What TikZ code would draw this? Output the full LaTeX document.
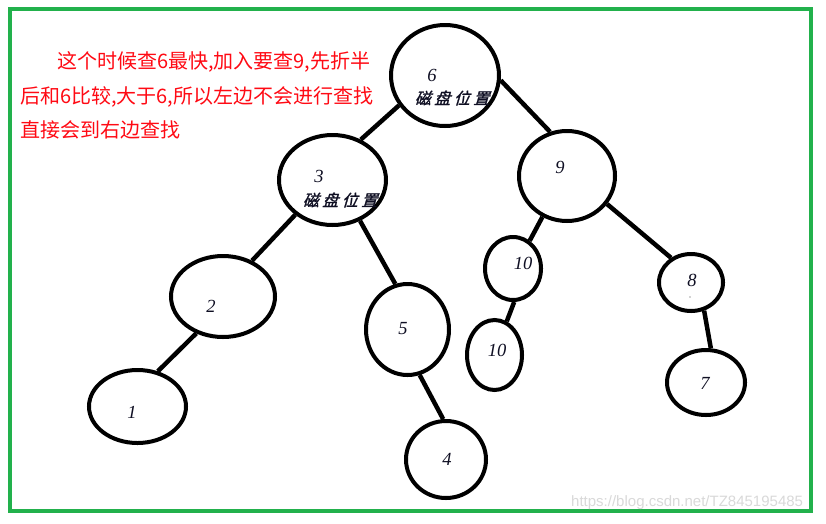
\documentclass[tikz,border=0pt]{standalone}
\usepackage{fontspec}
\setmainfont{Liberation Serif}
\newfontfamily\cjk{Noto Sans CJK SC}
\newfontfamily\cjksl[FakeSlant=0.3,FakeBold=1.5]{Noto Sans CJK SC}
\newfontfamily\wmfont{Liberation Sans}
\usetikzlibrary{shapes.geometric}
\definecolor{frameg}{RGB}{34,177,76}
\definecolor{notered}{RGB}{255,10,20}
\definecolor{labelc}{RGB}{15,15,35}
\newcommand{\diskpos}{磁\hspace{3.5pt}盘\hspace{3.5pt}位\hspace{3.5pt}置}
\begin{document}
\begin{tikzpicture}[x=1pt,y=-1pt,
  tn/.style={draw=black, line width=4pt, ellipse, inner sep=0pt},
  edge/.style={draw=black, line width=4.5pt},
  num/.style={font=\fontsize{18.5}{18.5}\selectfont\itshape, text=labelc, inner sep=0pt},
  disk/.style={font=\fontsize{16}{16}\selectfont\cjksl, text=labelc, inner sep=0pt},
  note/.style={font=\fontsize{20}{20}\selectfont\cjk, text=notered, anchor=west, inner sep=0pt}]
\useasboundingbox (0,0) rectangle (826,523);
\fill[white] (0,0) rectangle (826,523);
\draw[frameg, line width=4pt] (10.3,9) rectangle (811,510.5);

% text
\node[note] (l1) at (57,62) {这个时候查6最快,加入要查9,先折半};
\node[note] (l2) at (20,97) {后和6比较,大于6,所以左边不会进行查找};
\node[note] (l3) at (20,130) {直接会到右边查找};

% nodes
\node[tn, minimum width=108, minimum height=101] (n6) at (445,75.5) {};
\node[tn, minimum width=107, minimum height=90] (n3) at (332.5,180) {};
\node[tn, minimum width=96, minimum height=90] (n9) at (567,176) {};
\node[tn, minimum width=104, minimum height=81] (n2) at (223,296.5) {};
\node[tn, minimum width=97, minimum height=73] (n1) at (137.5,406.5) {};
\node[tn, minimum width=83, minimum height=91] (n5) at (407.5,329.5) {};
\node[tn, minimum width=80, minimum height=77] (n4) at (446,459.5) {};
\node[tn, minimum width=56, minimum height=63] (n10a) at (513,268.5) {};
\node[tn, minimum width=55, minimum height=70] (n10b) at (494.5,355) {};
\node[tn, minimum width=64, minimum height=57] (n8) at (691,282.5) {};
\node[tn, minimum width=78, minimum height=65] (n7) at (706,382.5) {};

% edges
\draw[edge] (n6.213) -- (n3.55);
\draw[edge] (n6.355) -- (n9.111);
\draw[edge] (n3.223) -- (n2.51);
\draw[edge] (n3.304) -- (n5.105);
\draw[edge] (n2.234) -- (n1.60);
\draw[edge] (n5.285) -- (n4.94);
\draw[edge] (n9.239) -- (n10a.59);
\draw[edge] (n9.325) -- (n8.129);
\draw[edge] (n10a.272) -- (n10b.70);
\draw[edge] (n8.295) -- (n7.82);

% labels
\node[num] (t6) at (432,75) {6};
\node[disk] (d6) at (452,98) {\diskpos};
\node[num] (t3) at (319,176) {3};
\node[disk] (d3) at (340,200) {\diskpos};
\node[num] (t9) at (560,167) {9};
\node[num] (t2) at (211,306) {2};
\node[num] (t1) at (132,412) {1};
\node[num] (t5) at (403,329) {5};
\node[num] (t4) at (447,459) {4};
\node[num] (t10a) at (523,263) {10};
\node[num] (t10b) at (497,350) {10};
\node[num] (t8) at (692,280) {8};
\node[num] (t7) at (705,383) {7};
\fill[gray!70] (690,297) circle (0.8);

% watermark
\node[font=\fontsize{15}{15}\selectfont\wmfont, text=gray!30, anchor=west, inner sep=0pt] (wm) at (571,503) {https://blog.csdn.net/TZ845195485};
\end{tikzpicture}
\end{document}
